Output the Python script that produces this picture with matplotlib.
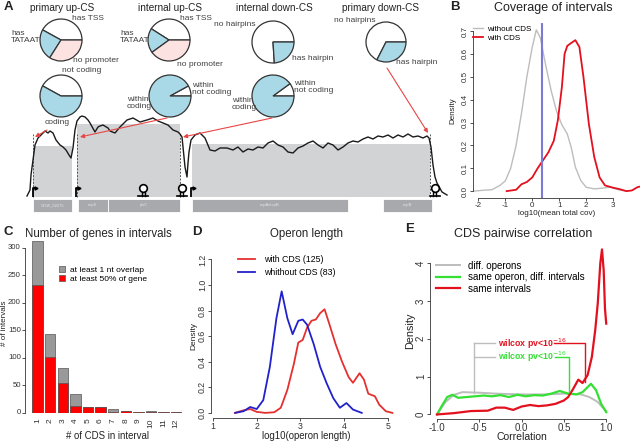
import numpy as np
import matplotlib
matplotlib.use("Agg")
import matplotlib.pyplot as plt
from matplotlib.patches import Patch

plt.rcParams['font.family'] = ['Liberation Sans', 'DejaVu Sans']
plt.rcParams['axes.unicode_minus'] = False

W, H = 640, 442

# ---------------- data ----------------
# panel A: pie fractions
pie_up_primary = [0.42, 0.24, 0.34]        # has TSS, has TATAAT, no promoter
pie_up_internal = [0.41, 0.19, 0.40]
pie_down_internal = [0.76, 0.24]           # no hairpins, has hairpin
pie_down_primary = [0.675, 0.325]
pie_cod_primary = [0.42, 0.58]             # not coding, coding
pie_cod_up_internal = [0.08, 0.92]
pie_cod_down_internal = [0.10, 0.90]

# panel A: coverage track (position, coverage)
cov_pos = [2, 5, 6, 8, 10, 13, 17, 20, 23, 25, 28, 31, 35, 38, 41, 44, 46, 48, 50, 52,
           55, 57, 60, 63, 65, 70, 73, 75, 78, 83, 85, 90, 95, 102, 108, 115, 122, 128,
           133, 138, 143, 148, 153, 155, 157, 158, 160, 162, 163, 164, 166, 170, 175, 180,
           185, 190, 195, 202, 208, 213, 218, 223, 228, 233, 238, 243, 248, 253, 258, 263,
           268, 273, 278, 283, 288, 293, 298, 303, 308, 313, 318, 323, 328, 333, 338, 343,
           348, 353, 358, 363, 368, 373, 378, 383, 388, 393, 398, 402, 404, 406, 408, 410,
           412, 417, 422]
cov_val = [1, 7, 22, 37, 52, 59, 63, 66, 64, 66, 64, 57, 52, 50, 47, 42, 39, 49, 67, 76,
           80, 81, 80, 77, 74, 65, 70, 71, 72, 69, 66, 64, 70, 77, 79, 75, 77, 79,
           76, 74, 72, 67, 65, 63, 60, 50, 30, 20, 34, 45, 57, 62, 64, 59,
           47, 46, 49, 49, 47, 50, 45, 48, 47, 50, 49, 54, 56, 52, 50, 45,
           44, 49, 51, 54, 56, 52, 49, 54, 52, 47, 50, 54, 56, 55, 58, 60,
           58, 61, 60, 62, 59, 62, 60, 63, 60, 61, 59, 61, 59, 50, 32, 20,
           14, 5, 2]
interval_start = [8, 52, 167]
interval_end = [47, 155, 405]
interval_level = [51, 73, 53]
gene_start = [8, 53, 83, 167, 358]
gene_end = [47, 83, 155, 323, 407]
gene_names = ['GCW_02275', 'ecpE', 'plsC', 'ecpA/ecpB', 'ecpB']
promoters = [8, 51, 166]
terminators = [118, 157, 410]

# panel B: density of log10(mean total cov)
b_without_x = [-2.19, -1.8, -1.5, -1.2, -1.0, -0.8, -0.6, -0.4, -0.2, 0.0, 0.15, 0.3, 0.5,
               0.7, 0.9, 1.1, 1.3, 1.45, 1.6, 1.8, 2.0, 2.3, 2.6, 2.9, 3.2, 3.5]
b_without_y = [0.0, 0.004, 0.006, 0.025, 0.045, 0.10, 0.20, 0.34, 0.50, 0.63, 0.705, 0.67,
               0.55, 0.44, 0.35, 0.29, 0.25, 0.19, 0.105, 0.047, 0.017, 0.01, 0.013, 0.017,
               0.006, 0.0]
b_with_x = [-0.95, -0.6, -0.4, -0.2, 0.0, 0.2, 0.4, 0.6, 0.8, 0.95, 1.1, 1.2, 1.3, 1.45,
            1.6, 1.75, 1.9, 2.1, 2.3, 2.5, 2.7, 3.0, 3.2, 3.5, 3.7, 3.9, 4.0]
b_with_y = [0.0, 0.006, 0.03, 0.04, 0.06, 0.10, 0.135, 0.17, 0.22, 0.31, 0.455, 0.60,
            0.635, 0.648, 0.66, 0.63, 0.50, 0.295, 0.15, 0.06, 0.025, 0.015, 0.01, 0.0,
            0.003, 0.017, 0.02]
b_threshold = 0.37

# panel C: number of genes in intervals
n_cds = [1, 2, 3, 4, 5, 6, 7, 8, 9, 10, 11, 12]
n_overlap = [313, 144, 82, 35, 10, 10, 7, 3, 2, 3, 1, 1]
n_half = [233, 102, 55, 12, 10, 10, 2, 3, 2, 2, 1, 1]

# panel D: operon length densities
d_with_x = [1.5, 1.7, 1.85, 2.0, 2.2, 2.4, 2.55, 2.7, 2.85, 2.95, 3.05, 3.15, 3.25, 3.35,
            3.45, 3.55, 3.65, 3.8, 3.95, 4.1, 4.2, 4.35, 4.45, 4.55, 4.7, 4.8, 4.95, 5.1]
d_with_y = [0.0, 0.02, 0.03, 0.008, 0.0, 0.005, 0.04, 0.18, 0.385, 0.55, 0.57, 0.665,
            0.72, 0.73, 0.78, 0.81, 0.705, 0.54, 0.40, 0.28, 0.235, 0.31, 0.26, 0.15,
            0.13, 0.064, 0.013, 0.0]
d_without_x = [1.51, 1.7, 1.85, 2.0, 2.15, 2.3, 2.45, 2.57, 2.7, 2.82, 2.95, 3.05, 3.15,
               3.3, 3.45, 3.6, 3.75, 3.9, 4.05, 4.2, 4.4]
d_without_y = [0.0, 0.013, 0.046, 0.03, 0.10, 0.36, 0.74, 0.95, 0.74, 0.615, 0.72, 0.73,
               0.69, 0.54, 0.36, 0.23, 0.115, 0.04, 0.077, 0.026, 0.0]

# panel E: CDS pairwise correlation densities
e_diff_x = [-1.0, -0.9, -0.8, -0.7, -0.5, -0.3, 0.0, 0.3, 0.5, 0.7, 0.8, 0.9, 0.95, 1.0]
e_diff_y = [0.0, 0.33, 0.52, 0.59, 0.575, 0.55, 0.53, 0.53, 0.55, 0.53, 0.46, 0.33, 0.2, 0.09]
e_operon_x = [-1.0, -0.95, -0.88, -0.82, -0.75, -0.65, -0.55, -0.45, -0.35, -0.25, -0.15,
              -0.05, 0.05, 0.15, 0.25, 0.35, 0.45, 0.55, 0.65, 0.72, 0.82, 0.88, 0.94, 1.0]
e_operon_y = [0.0, 0.2, 0.46, 0.52, 0.44, 0.46, 0.48, 0.5, 0.48, 0.51, 0.46, 0.52, 0.48,
              0.51, 0.5, 0.55, 0.62, 0.55, 0.53, 0.59, 0.81, 0.64, 0.28, 0.06]
e_same_x = [-1.0, -0.8, -0.6, -0.4, -0.3, -0.2, -0.1, 0.0, 0.1, 0.2, 0.3, 0.4, 0.5, 0.55,
            0.6, 0.67, 0.72, 0.78, 0.83, 0.87, 0.9, 0.93, 0.95, 0.97, 0.985, 1.0]
e_same_y = [0.0, 0.035, 0.09, 0.1, 0.18, 0.18, 0.12, 0.21, 0.25, 0.22, 0.24, 0.28, 0.37,
            0.46, 0.64, 0.92, 0.83, 1.04, 1.52, 2.23, 2.94, 4.0, 4.36, 3.8, 2.8, 2.4]

# ---------------- helpers ----------------
fig = plt.figure(figsize=(W / 100, H / 100), dpi=100)


def px_rect(x0, y0, x1, y1):
    return [x0 / W, 1 - y1 / H, (x1 - x0) / W, (y1 - y0) / H]


def ftext(x, y, s, **kw):
    kw.setdefault('ha', 'center')
    kw.setdefault('va', 'center')
    return fig.text(x / W, 1 - y / H, s, **kw)


def draw_pie(cx, cy, r, fracs, colors):
    ax = fig.add_axes(px_rect(cx - 1.25 * r, cy - 1.25 * r, cx + 1.25 * r, cy + 1.25 * r))
    ax.pie(fracs, colors=colors, startangle=0, counterclock=True,
           wedgeprops=dict(edgecolor='#333333', linewidth=0.9))
    return ax


def r_style(ax, xb, yb, fs):
    for s in ['top', 'right']:
        ax.spines[s].set_visible(False)
    for s in ['left', 'bottom']:
        ax.spines[s].set_linewidth(0.6)
        ax.spines[s].set_color('#333333')
    ax.spines['bottom'].set_bounds(*xb)
    ax.spines['left'].set_bounds(*yb)
    ax.tick_params(direction='out', length=2, width=0.6, labelsize=fs, pad=1,
                   colors='#333333')
    plt.setp(ax.get_yticklabels(), rotation=90, va='center')
    ax.set_facecolor('none')


def label_at(ax, axis, text, px, fs):
    # place an axis label centred at a figure pixel position
    x0, y0, w, h = ax.get_position().bounds
    if axis == 'x':
        ax.set_xlabel(text, fontsize=fs, color='#222222', va='center')
        ax.xaxis.set_label_coords(0.5, ((1 - px / H) - y0) / h)
    else:
        ax.set_ylabel(text, fontsize=fs, color='#222222', va='center')
        ax.yaxis.set_label_coords((px / W - x0) / w, 0.5)


WHITE, BLUE, PINK = '#ffffff', '#a9d8e6', '#fde2e2'
TXT = '#404040'

# ---------------- panel A ----------------
draw_pie(61, 40, 21, pie_up_primary, [WHITE, BLUE, PINK])
draw_pie(169, 40, 21, pie_up_internal, [WHITE, BLUE, PINK])
draw_pie(273, 42, 21, pie_down_internal, [WHITE, BLUE])
draw_pie(386, 42, 20, pie_down_primary, [WHITE, BLUE])
draw_pie(61, 96, 21, pie_cod_primary, [WHITE, BLUE])
draw_pie(170, 96, 21, pie_cod_up_internal, [WHITE, BLUE])
draw_pie(273, 96, 21, pie_cod_down_internal, [WHITE, BLUE])

ptitle = dict(fontsize=7.2, color='#222222')
ftext(62, 8, 'primary up-CS', **ptitle)
ftext(170, 8, 'internal up-CS', **ptitle)
ftext(274, 8, 'internal down-CS', **ptitle)
ftext(380, 8, 'primary down-CS', **ptitle)

plab = dict(fontsize=6, color=TXT)
ftext(88, 18, 'has TSS', **plab)
ftext(11, 37, 'has\nTATAAT', ha='left', linespacing=1.0, **plab)
ftext(73, 61, 'no promoter', ha='left', **plab)
ftext(82, 71, 'not coding', **plab)
ftext(57, 123, 'coding', **plab)
ftext(196, 18, 'has TSS', **plab)
ftext(120, 37, 'has\nTATAAT', ha='left', linespacing=1.0, **plab)
ftext(177, 64, 'no promoter', ha='left', **plab)
ftext(192, 89, 'within\nnot coding', ha='left', linespacing=1.0, **plab)
ftext(127, 103, 'within\ncoding', ha='left', linespacing=1.0, **plab)
ftext(235, 24, 'no hairpins', **plab)
ftext(292, 59, 'has hairpin', ha='left', **plab)
ftext(294, 87, 'within\nnot coding', ha='left', linespacing=1.0, **plab)
ftext(232, 104, 'within\ncoding', ha='left', linespacing=1.0, **plab)
ftext(355, 21, 'no hairpins', **plab)
ftext(417, 63, 'has hairpin', **plab)

# coverage track
axT = fig.add_axes(px_rect(25, 110, 450, 215))
axT.set_xlim(0, 425)
axT.set_ylim(-18, 87)
axT.axis('off')
axT.bar(interval_start, interval_level,
        width=np.array(interval_end) - np.array(interval_start),
        align='edge', color='#d1d3d4', zorder=1)
for x in [interval_start[0], interval_start[1], interval_end[1], interval_end[2]]:
    axT.plot([x, x], [0, 63], ls=(0, (2, 1.5)), color='#555555', lw=0.7, zorder=2)
axT.barh(-8, np.array(gene_end) - np.array(gene_start), left=gene_start, height=13,
         color='#a7a9ac', edgecolor='white', linewidth=0.6, zorder=1)
for s, e, n in zip(gene_start, gene_end, gene_names):
    axT.text((s + e) / 2, -8, n, fontsize=3, color='#e6e6e6', ha='center', va='center')
axT.plot(cov_pos, cov_val, color='#1a1a1a', lw=1.0, zorder=3)
for p in promoters:
    axT.plot([p, p, p + 2.5], [0.5, 9, 9], color='black', lw=1.3, zorder=4,
             solid_capstyle='butt')
    axT.plot(p + 3, 9, marker='>', color='black', ms=2.2, zorder=4)
for t in terminators:
    axT.plot([t - 5, t + 5], [1.5, 1.5], color='black', lw=1.2, zorder=4)
    axT.plot([t - 1.5, t - 1.5, t + 1.5, t + 1.5], [1.5, 5, 5, 1.5], color='black',
             lw=1.0, zorder=4)
    axT.plot(t, 9, marker='o', mfc='white', mec='black', ms=5.5, mew=1.2, zorder=5)

# ---------------- panel B ----------------
axB = fig.add_axes(px_rect(473, 23, 640, 198))
axB.plot(b_without_x, b_without_y, color='#bdbdbd', lw=1.0, label='without CDS')
axB.plot(b_with_x, b_with_y, color='#e3101e', lw=1.3, label='with CDS')
axB.axvline(b_threshold, color='#7b7bd6', lw=1.5)
axB.set_xlim(-2.2, 4.0)
axB.set_ylim(-0.03, 0.735)
axB.set_xticks([-2, -1, 0, 1, 2, 3])
axB.set_yticks([0.0, 0.1, 0.2, 0.3, 0.4, 0.5, 0.6, 0.7])
axB.set_yticklabels(['0.0', '0.1', '0.2', '0.3', '0.4', '0.5', '0.6', '0.7'])
r_style(axB, (-2, 3), (0, 0.7), 5.8)
label_at(axB, 'x', 'log10(mean total cov)', 213, 5.8)
label_at(axB, 'y', 'Density', 453, 5.8)
axB.legend(loc='upper left', bbox_to_anchor=(0.0, 0.985), frameon=False, fontsize=5.8,
           handlelength=1.3, handletextpad=0.4, borderpad=0, borderaxespad=0,
           labelspacing=0.15)

# ---------------- panel C ----------------
axC = fig.add_axes(px_rect(25, 234, 190, 413))
axC.bar(n_cds, n_overlap, width=0.83, color='#999999', edgecolor='#555555', lw=0.5)
axC.bar(n_cds, n_half, width=0.83, color='#ff0000', edgecolor='#555555', lw=0.5)
axC.set_xlim(0.0, 13.1)
axC.set_ylim(0, 325)
axC.set_yticks([0, 50, 100, 150, 200, 250, 300])
axC.set_xticks(n_cds)
axC.set_xticklabels([str(n) for n in n_cds], rotation=90)
r_style(axC, (1, 12), (0, 300), 6)
plt.setp(axC.get_yticklabels(), rotation=0, va='center')
axC.tick_params(axis='y', labelsize=5.6)
axC.spines['bottom'].set_visible(False)
axC.tick_params(axis='x', length=0, pad=4)
label_at(axC, 'x', '# of CDS in interval', 436, 6.9)
label_at(axC, 'y', '# of intervals', 4.2, 5.8)
axC.legend(handles=[Patch(facecolor='#999999', edgecolor='#555555', lw=0.5),
                    Patch(facecolor='#ff0000', edgecolor='#555555', lw=0.5)],
           labels=['at least 1 nt overlap', 'at least 50% of gene'],
           loc='upper left', bbox_to_anchor=(0.205, 0.82), frameon=False, fontsize=6,
           handlelength=0.7, handleheight=0.7, handletextpad=0.6, borderpad=0,
           borderaxespad=0, labelspacing=0.15)

# ---------------- panel D ----------------
axD = fig.add_axes(px_rect(211, 253, 402, 418))
axD.plot(d_with_x, d_with_y, color='#e53030', lw=1.3, label='with CDS (125)')
axD.plot(d_without_x, d_without_y, color='#2222cc', lw=1.3, label='whithout CDS (83)')
axD.set_xlim(0.955, 5.32)
axD.set_ylim(-0.04, 1.25)
axD.set_xticks([1, 2, 3, 4, 5])
axD.set_yticks([0.0, 0.2, 0.4, 0.6, 0.8, 1.0, 1.2])
axD.set_yticklabels(['0.0', '0.2', '0.4', '0.6', '0.8', '1.0', '1.2'])
r_style(axD, (1, 5), (0, 1.2), 6.3)
label_at(axD, 'x', 'log10(operon length)', 436, 6.9)
label_at(axD, 'y', 'Density', 194, 6)
axD.legend(loc='upper left', bbox_to_anchor=(0.14, 0.99), frameon=False, fontsize=6.3,
           handlelength=2.0, handletextpad=1.0, borderpad=0, borderaxespad=0,
           labelspacing=0.45)

# ---------------- panel E ----------------
axE = fig.add_axes(px_rect(430, 243, 613, 419))
axE.plot(e_diff_x, e_diff_y, color='#bdbdbd', lw=1.4, label='diff. operons')
axE.plot(e_operon_x, e_operon_y, color='#33e033', lw=1.6,
         label='same operon, diff. intervals')
axE.plot(e_same_x, e_same_y, color='#e3101e', lw=1.6, label='same intervals')
axE.set_xlim(-1.083, 1.08)
axE.set_ylim(-0.12, 4.53)
axE.set_xticks([-1.0, -0.5, 0.0, 0.5, 1.0])
axE.set_xticklabels(['-1.0', '-0.5', '0.0', '0.5', '1.0'])
axE.set_yticks([0, 1, 2, 3, 4])
r_style(axE, (-1, 1), (0, 4), 7)
label_at(axE, 'x', 'Correlation', 437, 7.5)
label_at(axE, 'y', 'Density', 410, 7.8)
axE.legend(loc='upper left', bbox_to_anchor=(0.035, 0.9), frameon=False, fontsize=7,
           handlelength=2.4, handletextpad=0.9, borderpad=0, borderaxespad=0,
           labelspacing=0.15)
# wilcox brackets
axE.plot([-0.56, -0.56], [0.57, 1.88], color='#bdbdbd', lw=1.0)
axE.plot([-0.56, -0.31], [1.88, 1.88], color='#bdbdbd', lw=1.0)
axE.plot([-0.56, -0.31], [1.53, 1.53], color='#bdbdbd', lw=1.0)
axE.plot([0.38, 0.75, 0.75], [1.88, 1.88, 0.85], color='#e3101e', lw=1.0)
axE.plot([0.39, 0.56, 0.56], [1.53, 1.53, 0.6], color='#33e033', lw=1.0)
axE.text(-0.28, 1.88, r'wilcox pv<10$^{-16}$', color='#e3101e', fontsize=6.3,
         fontweight='bold', va='center', ha='left')
axE.text(-0.28, 1.53, r'wilcox pv<10$^{-16}$', color='#33e033', fontsize=6.3,
         fontweight='bold', va='center', ha='left')

# ---------------- titles & letters ----------------
ftext(553, 8, 'Coverage of intervals', fontsize=9, color='#222222')
ftext(98, 234, 'Number of genes in intervals', fontsize=8.3, color='#222222')
ftext(307, 234, 'Operon length', fontsize=8.3, color='#222222')
ftext(523, 234, 'CDS pairwise correlation', fontsize=9, color='#222222')
letter = dict(fontsize=9.5, fontweight='bold', color='#222222')
ftext(8, 7, 'A', **letter)
ftext(455, 7, 'B', **letter)
ftext(8, 232, 'C', **letter)
ftext(197, 232, 'D', **letter)
ftext(410, 229, 'E', **letter)

# ---------------- red arrows (overlay) ----------------
axO = fig.add_axes([0, 0, 1, 1])
axO.set_xlim(0, W)
axO.set_ylim(H, 0)
axO.axis('off')
arrows = [((47, 130), (35, 137)), ((167, 118), (80, 137)),
          ((272, 118), (183, 137)), ((387, 68), (428, 133))]
for (x0, y0), (x1, y1) in arrows:
    axO.annotate('', xy=(x1, y1), xytext=(x0, y0),
                 arrowprops=dict(arrowstyle='-|>', color='#e84646', lw=0.8,
                                 mutation_scale=6, shrinkA=0, shrinkB=0))

fig.savefig('out.png', dpi=100)
